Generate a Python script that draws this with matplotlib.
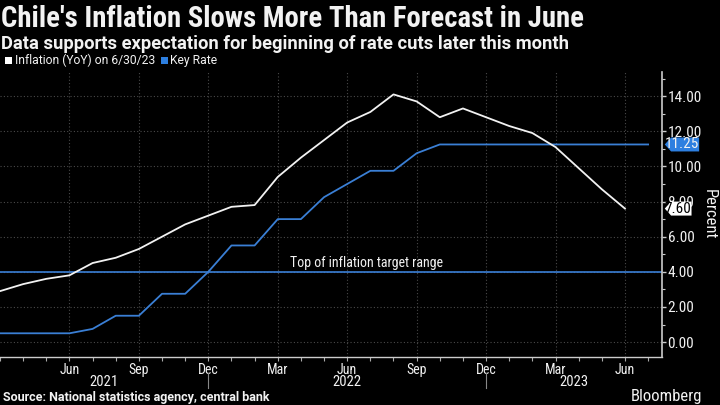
import matplotlib
matplotlib.use('Agg')
import matplotlib.pyplot as plt
from matplotlib.path import Path
from matplotlib.ticker import FixedLocator, MultipleLocator
import matplotlib.transforms as mtransforms
import numpy as np

# Monthly data, Mar 2021 .. Jun/Jul 2023
inflation = [2.9, 3.3, 3.6, 3.8, 4.5, 4.8, 5.3, 6.0, 6.7, 7.2,
             7.7, 7.8, 9.4, 10.5, 11.5, 12.5, 13.1, 14.1, 13.7, 12.8, 13.3, 12.8,
             12.3, 11.9, 11.1, 9.9, 8.7, 7.6]
key_rate = [0.5, 0.5, 0.5, 0.5, 0.75, 1.5, 1.5, 2.75, 2.75, 4.0,
            5.5, 5.5, 7.0, 7.0, 8.25, 9.0, 9.75, 9.75, 10.75, 11.25, 11.25, 11.25,
            11.25, 11.25, 11.25, 11.25, 11.25, 11.25, 11.25]
target_top = 4.0
quarter_labels = ['Jun', 'Sep', 'Dec', 'Mar', 'Jun', 'Sep', 'Dec', 'Mar', 'Jun']
years = ['2021', '2022', '2023']

plt.rcParams['font.family'] = ['Roboto Condensed', 'DejaVu Sans']
WIDE = ['Roboto', 'DejaVu Sans']

BG = '#000000'
BLUE = '#3a7fd5'
WHITE = '#f2f2f2'
GRID = '#4a4a4a'


def tag_box(x0, y0, width, height, mutation_size):
    # last-value tag with a pointed left side
    tip = height * 0.45
    verts = [(x0, y0 + height / 2), (x0 + tip, y0 + height), (x0 + width, y0 + height),
             (x0 + width, y0), (x0 + tip, y0), (x0, y0 + height / 2)]
    return Path(verts, closed=True)


fig = plt.figure(figsize=(7.2, 4.05), dpi=100)
fig.patch.set_facecolor(BG)
ax = fig.add_axes([0.0, 0.1185, 662 / 720, 0.7035])
ax.set_facecolor(BG)

ax.axhline(target_top, color=BLUE, lw=1.2, zorder=2)
ax.plot(np.arange(len(key_rate)), key_rate, color=BLUE, lw=1.3, zorder=3)
ax.plot(np.arange(len(inflation)), inflation, color=WHITE, lw=1.3, zorder=4)

ax.text(15.85, target_top + 0.12, 'Top of inflation target range', color=WHITE,
        fontsize=10, ha='center', va='bottom', zorder=5)

ax.set_xlim(0, 28.6)
ax.set_ylim(-0.85, 15.37)

# dotted grid
qpos = np.arange(3, 28, 3)
for q in qpos:
    ax.axvline(q, color=GRID, lw=0.8, ls=(0, (1, 2)), zorder=1)
for v in np.arange(0, 15, 2):
    ax.axhline(v, color=GRID, lw=0.8, ls=(0, (1, 2)), zorder=1)

for s in ['top', 'left']:
    ax.spines[s].set_visible(False)
ax.spines['right'].set_color('#cccccc')
ax.spines['bottom'].set_color('#cccccc')
ax.spines['right'].set_linewidth(1.2)
ax.spines['bottom'].set_linewidth(1.0)

ax.yaxis.tick_right()
ax.set_yticks(np.arange(0, 15, 2))
ax.set_yticklabels(['%.2f' % v for v in np.arange(0, 15, 2)])
ax.yaxis.set_minor_locator(MultipleLocator(1))
ax.tick_params(axis='y', which='major', colors='#cccccc', labelcolor=WHITE,
               labelsize=11, length=3, width=1, pad=1)
ax.tick_params(axis='y', which='minor', colors='#cccccc', length=2, width=0.8)
fig.text(709 / 720, 1 - 214 / 405, 'Percent', color=WHITE, fontsize=12,
         rotation=270, ha='center', va='center')

ax.xaxis.set_minor_locator(FixedLocator(np.arange(0, 29)))
ax.set_xticks(qpos)
ax.set_xticklabels(quarter_labels)
ax.tick_params(axis='x', which='both', colors='#aaaaaa', labelcolor=WHITE,
               labelsize=10, length=3, width=0.8, pad=1.5)

# year labels + separators under the month labels
trans = mtransforms.blended_transform_factory(ax.transData, ax.transAxes)
year_sep = [9, 21]
year_centers = [4.5, 15, 24.8]
for xs in year_sep:
    ax.plot([xs, xs], [-0.056, -0.11], transform=trans, color='#888888', lw=0.8, clip_on=False)
for xc, yr in zip(year_centers, years):
    ax.text(xc, -0.088, yr, transform=trans, ha='center', va='center',
            color=WHITE, fontsize=10.5)

for val, fc, tc in [(key_rate[-1], '#2d7fe0', WHITE), (inflation[-1], '#ffffff', '#000000')]:
    ax.annotate('%.2f' % val, xy=(1.0, val), xycoords=('axes fraction', 'data'),
                xytext=(2, 0), textcoords='offset points', ha='left', va='center',
                color=tc, fontsize=11, zorder=6, annotation_clip=False,
                bbox=dict(boxstyle=tag_box, fc=fc, ec='none', pad=0.1))

fig.text(0.002, 0.952, "Chile's Inflation Slows More Than Forecast in June",
         color=WHITE, fontsize=20.7, fontweight='bold', ha='left', va='center')
fig.text(0.002, 0.891, 'Data supports expectation for beginning of rate cuts later this month',
         color=WHITE, fontsize=13.2, fontweight='bold', ha='left', va='center', family=WIDE)

fig.patches.append(plt.Rectangle((5 / 720, 1 - 64 / 405), 7 / 720, 7 / 405,
                                 transform=fig.transFigure, fc='#ffffff', ec='none'))
fig.text(15 / 720, 1 - 60.5 / 405, 'Inflation (YoY) on 6/30/23', color=WHITE,
         fontsize=8.7, ha='left', va='center', family=WIDE)
fig.patches.append(plt.Rectangle((161 / 720, 1 - 64 / 405), 7 / 720, 7 / 405,
                                 transform=fig.transFigure, fc='#2d7fe0', ec='none'))
fig.text(170 / 720, 1 - 60.5 / 405, 'Key Rate', color=WHITE,
         fontsize=8.7, ha='left', va='center', family=WIDE)

fig.text(0.004, 1 - 397 / 405, 'Source: National statistics agency, central bank',
         color=WHITE, fontsize=9, fontweight='bold', ha='left', va='center', family=WIDE)
fig.text(0.975, 1 - 397 / 405, 'Bloomberg', color=WHITE,
         fontsize=12, ha='right', va='center')

fig.savefig('out.png', facecolor=BG, dpi=100)
plt.close()
